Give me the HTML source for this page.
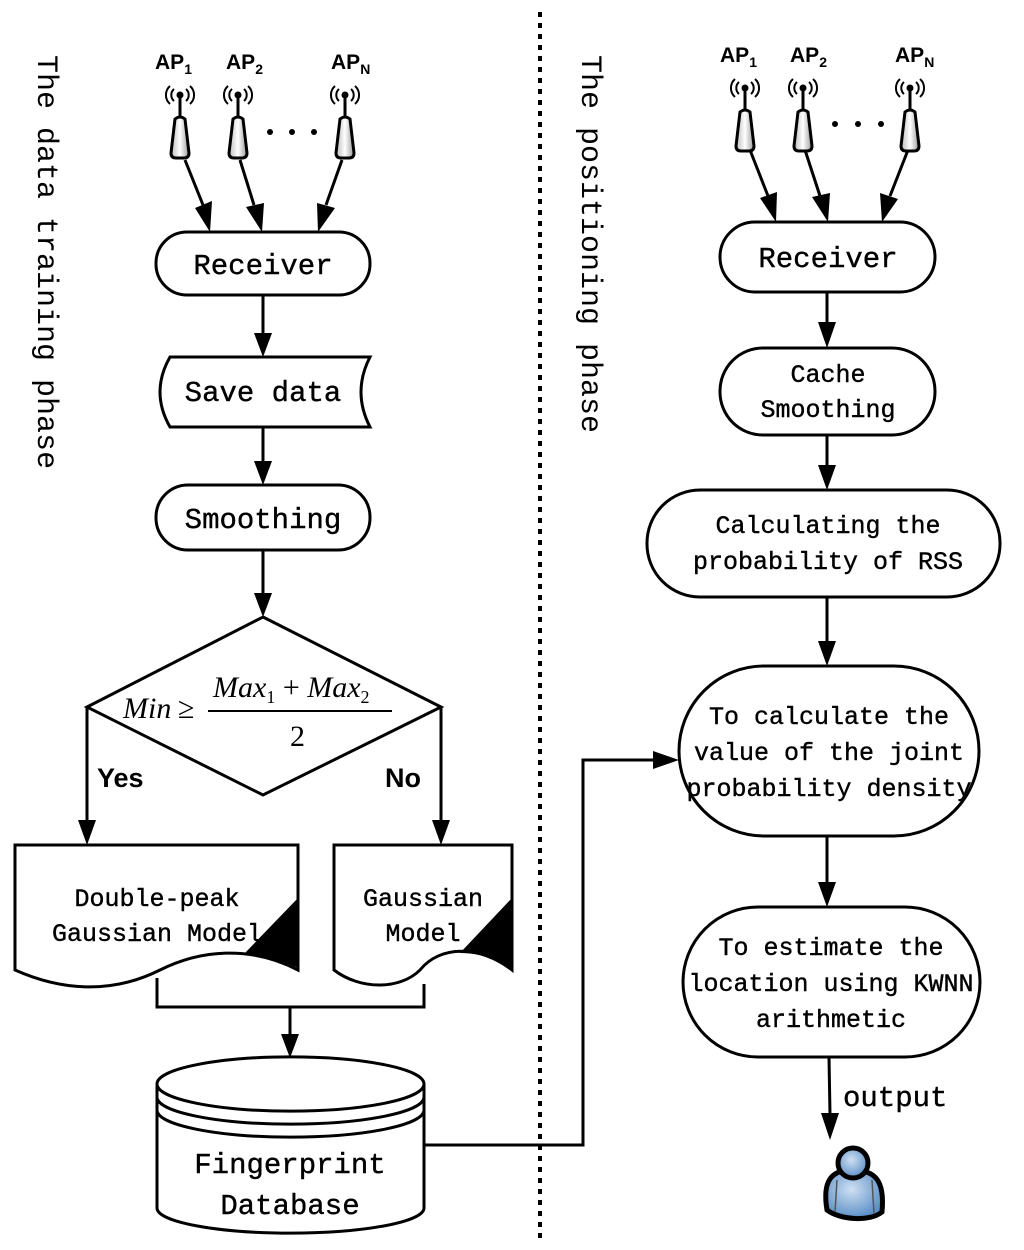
<!DOCTYPE html>
<html><head><meta charset="utf-8"><style>html,body{margin:0;padding:0;background:#fff}svg{display:block}</style></head>
<body>
<svg width="1024" height="1250" viewBox="0 0 1024 1250" xmlns="http://www.w3.org/2000/svg">
<defs>
<linearGradient id="ag" x1="0" x2="1"><stop offset="0" stop-color="#bbb"/><stop offset="0.5" stop-color="#fff"/><stop offset="1" stop-color="#999"/></linearGradient>
<radialGradient id="pg" cx="0.45" cy="0.4" r="0.6"><stop offset="0" stop-color="#cfe0f2"/><stop offset="1" stop-color="#5b8fc7"/></radialGradient>
<g id="ant">
<path d="M-6,-6 A8,8 0 0 0 -6,6 M6,-6 A8,8 0 0 1 6,6 M-10,-9 A12,12 0 0 0 -10,9 M10,-9 A12,12 0 0 1 10,9" fill="none" stroke="#000" stroke-width="2"/>
<circle cx="0" cy="0" r="3.5" fill="#000"/>
<line x1="0" y1="0" x2="0" y2="24" stroke="#000" stroke-width="3"/>
<path d="M-5,24 Q0,20 5,24 L9,58 Q9,63 4,63 L-4,63 Q-9,63 -9,58 Z" fill="url(#ag)" stroke="#000" stroke-width="3"/>
</g>
</defs>
<g font-family="Liberation Mono, monospace" fill="#000">
<line x1="540" y1="12" x2="540" y2="1242" stroke="#000" stroke-width="4" stroke-dasharray="5,6"/>
<text transform="translate(38,55) rotate(90)" font-size="30">The data training phase</text>
<text transform="translate(582,55) rotate(90)" font-size="30">The positioning phase</text>

<g font-family="Liberation Sans, sans-serif" font-weight="bold" font-size="21">
<text x="155" y="69">AP<tspan font-size="14" dy="5">1</tspan></text>
<text x="226" y="69">AP<tspan font-size="14" dy="5">2</tspan></text>
<text x="331" y="69">AP<tspan font-size="14" dy="5">N</tspan></text>
<text x="720" y="62">AP<tspan font-size="14" dy="5">1</tspan></text>
<text x="790" y="62">AP<tspan font-size="14" dy="5">2</tspan></text>
<text x="895" y="62">AP<tspan font-size="14" dy="5">N</tspan></text>
</g>
<use href="#ant" x="180" y="95"/>
<use href="#ant" x="238" y="95"/>
<use href="#ant" x="345" y="95"/>
<circle cx="270" cy="132" r="3" /><circle cx="292" cy="132" r="3"/><circle cx="314" cy="132" r="3"/>
<use href="#ant" x="745" y="88"/>
<use href="#ant" x="803" y="88"/>
<use href="#ant" x="910" y="88"/>
<circle cx="835" cy="124" r="3"/><circle cx="858" cy="124" r="3"/><circle cx="881" cy="124" r="3"/>

<g stroke="#000" stroke-width="3" fill="none">
<line x1="185" y1="160" x2="203" y2="205"/>
<line x1="240" y1="160" x2="254" y2="205"/>
<line x1="342" y1="160" x2="326" y2="205"/>
<line x1="750" y1="150" x2="768" y2="196"/>
<line x1="805" y1="150" x2="820" y2="196"/>
<line x1="908" y1="150" x2="890" y2="196"/>
</g>
<g>
<polygon points="195,208 212,201 210,232"/>
<polygon points="246,207 264,203 262,232"/>
<polygon points="317,203 335,208 318,232"/>
<polygon points="760,198 777,192 776,222"/>
<polygon points="812,197 830,193 828,222"/>
<polygon points="880,193 898,199 882,222"/>
</g>

<g stroke="#000" stroke-width="3" fill="#fff">
<rect x="156" y="232" width="214" height="63" rx="31"/>
<path d="M170,357 L370,357 Q352,392 370,427 L170,427 Q150,392 170,357 Z"/>
<rect x="156" y="485" width="214" height="65" rx="32"/>
<polygon points="263,617 441,707 263,795 87,707"/>
<path d="M15,845 L298,845 L298,970 C250,945 200,950 160,970 C110,995 60,990 15,970 Z"/>
<path d="M334,845 L512,845 L512,970 C480,945 440,945 420,970 C400,990 360,990 334,970 Z"/>
<path d="M157,1084 A133,27 0 0 1 424,1084 L424,1208 A133,25 0 0 1 157,1208 Z"/>
<path d="M157,1084 A133,27 0 0 0 424,1084" fill="none"/>
<path d="M157,1097 A133,27 0 0 0 424,1097" fill="none"/>
<path d="M157,1110 A133,27 0 0 0 424,1110" fill="none"/>
<rect x="720" y="222" width="215" height="70" rx="35"/>
<rect x="720" y="348" width="215" height="87" rx="43"/>
<rect x="647" y="490" width="353" height="107" rx="53"/>
<rect x="679" y="666" width="300" height="170" rx="85" ry="85"/>
<rect x="683" y="907" width="297" height="150" rx="75"/>
</g>
<path d="M298,898 L298,968 C285,962 265,955 245,953 Z"/>
<path d="M512,898 L512,968 C500,962 485,953 460,953 Z"/>

<g stroke="#000" stroke-width="3" fill="none">
<line x1="263" y1="295" x2="263" y2="335"/>
<line x1="263" y1="427" x2="263" y2="463"/>
<line x1="263" y1="550" x2="263" y2="595"/>
<line x1="87" y1="707" x2="87" y2="822"/>
<line x1="441" y1="707" x2="441" y2="822"/>
<polyline points="157,978 157,1007 424,1007 424,984"/>
<line x1="290" y1="1007" x2="290" y2="1036"/>
<polyline points="424,1145 583,1145 583,760 655,760"/>
<line x1="827" y1="292" x2="827" y2="325"/>
<line x1="827" y1="435" x2="827" y2="467"/>
<line x1="827" y1="597" x2="827" y2="643"/>
<line x1="827" y1="836" x2="827" y2="884"/>
<line x1="829" y1="1057" x2="830" y2="1115"/>
</g>
<g>
<polygon points="254,333 272,333 263,357"/>
<polygon points="254,461 272,461 263,485"/>
<polygon points="254,593 272,593 263,617"/>
<polygon points="78,820 96,820 87,845"/>
<polygon points="432,820 450,820 441,845"/>
<polygon points="281,1034 299,1034 290,1058"/>
<polygon points="653,751 653,769 679,760"/>
<polygon points="818,322 836,322 827,348"/>
<polygon points="818,465 836,465 827,490"/>
<polygon points="818,641 836,641 827,666"/>
<polygon points="818,882 836,882 827,907"/>
<polygon points="821,1113 839,1113 830,1140"/>
</g>

<g text-anchor="middle" stroke="#000" stroke-width="0.4">
<text x="263" y="274" font-size="29">Receiver</text>
<text x="263" y="401" font-size="29">Save data</text>
<text x="263" y="528" font-size="29">Smoothing</text>
<text x="157" y="906" font-size="25">Double-peak</text>
<text x="157" y="941" font-size="25">Gaussian Model</text>
<text x="423" y="906" font-size="25">Gaussian</text>
<text x="423" y="941" font-size="25">Model</text>
<text x="290" y="1173" font-size="29">Fingerprint</text>
<text x="290" y="1214" font-size="29">Database</text>
<text x="828" y="267" font-size="29">Receiver</text>
<text x="828" y="382" font-size="25">Cache</text>
<text x="828" y="417" font-size="25">Smoothing</text>
<text x="828" y="533" font-size="25">Calculating the</text>
<text x="828" y="569" font-size="25">probability of RSS</text>
<text x="829" y="724" font-size="25">To calculate the</text>
<text x="829" y="760" font-size="25">value of the joint</text>
<text x="829" y="796" font-size="25">probability density</text>
<text x="831" y="955" font-size="25">To estimate the</text>
<text x="831" y="991" font-size="25">location using KWNN</text>
<text x="831" y="1027" font-size="25">arithmetic</text>
</g>
<text x="843" y="1106" font-size="29" stroke="#000" stroke-width="0.4">output</text>
<g font-family="Liberation Sans, sans-serif" font-weight="bold" font-size="27">
<text x="97" y="787">Yes</text>
<text x="385" y="787">No</text>
</g>
<g font-family="Liberation Serif, serif" font-size="30">
<text x="123" y="718" font-style="italic">Min</text>
<text x="178" y="718">≥</text>
<text x="213" y="697" font-style="italic">Max<tspan font-style="normal" font-size="18" dy="6">1</tspan><tspan dy="-6" font-style="normal"> + </tspan>Max<tspan font-style="normal" font-size="18" dy="6">2</tspan></text>
<text x="290" y="746" font-style="normal">2</text>
</g>
<line x1="208" y1="711" x2="392" y2="711" stroke="#000" stroke-width="2"/>

<g stroke="#000" stroke-width="5">
<path d="M827,1210 C822,1180 832,1170 852,1170 C875,1170 885,1180 882,1212 C870,1222 840,1220 827,1210 Z" fill="url(#pg)"/>
<circle cx="853" cy="1163" r="15" fill="url(#pg)"/>
</g>
<path d="M837,1180 L835,1212 M872,1180 L874,1214" stroke="#555" stroke-width="1.5"/>
</g>
</svg>
</body></html>
